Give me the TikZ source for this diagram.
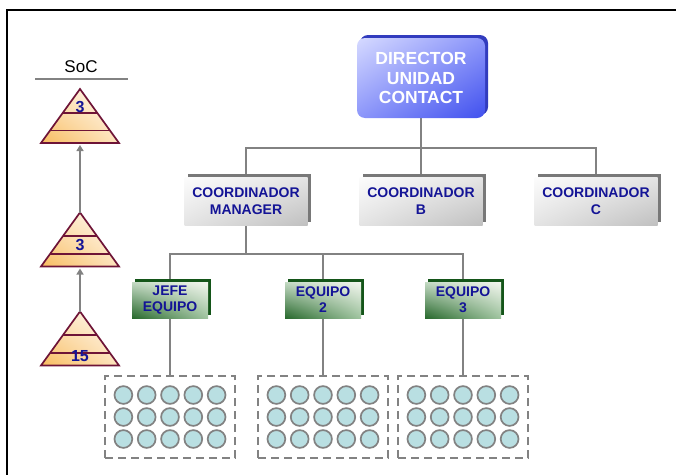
\documentclass[tikz,border=0pt]{standalone}
\usepackage{fontspec}
\setmainfont{Liberation Sans}
\usetikzlibrary{positioning,calc,shadows,shadings,backgrounds,arrows.meta}
\definecolor{dirlight}{RGB}{214,218,255}
\definecolor{dirmid}{RGB}{140,150,250}
\definecolor{dirdark}{RGB}{64,80,238}
\definecolor{dirshade}{RGB}{50,60,190}
\definecolor{coordlight}{RGB}{252,252,252}
\definecolor{coordmid}{RGB}{228,228,228}
\definecolor{coorddark}{RGB}{192,192,192}
\definecolor{coordshade}{RGB}{120,120,120}
\definecolor{teamlight}{RGB}{242,246,238}
\definecolor{teammidA}{RGB}{196,218,196}
\definecolor{teammidB}{RGB}{160,196,160}
\definecolor{teamdark}{RGB}{40,105,45}
\definecolor{teamshade}{RGB}{20,85,25}
\definecolor{txtblue}{RGB}{20,20,150}
\definecolor{linkgray}{RGB}{130,130,130}
\definecolor{pyrlow}{RGB}{248,188,95}
\definecolor{pyrmid}{RGB}{253,228,190}
\definecolor{pyrhigh}{RGB}{255,250,242}
\definecolor{pyrline}{RGB}{110,20,55}
\definecolor{headfill}{RGB}{185,223,226}
\tikzset{
dirbox/.style={rounded corners=8pt,minimum width=128pt,minimum height=80pt,inner sep=0pt,
upper left=dirlight,upper right=dirmid,lower left=dirmid,lower right=dirdark,
drop shadow={shadow xshift=3pt,shadow yshift=3pt,fill=dirshade,opacity=1},
text=white,align=center,font=\fontsize{17.5}{19.5}\selectfont\bfseries},
coordbox/.style={minimum width=123pt,minimum height=48pt,inner sep=0pt,
upper left=coordlight,upper right=coordmid,lower left=coordmid,lower right=coorddark,
drop shadow={shadow xshift=3pt,shadow yshift=3pt,fill=coordshade,opacity=1},
text=txtblue,align=center,font=\fontsize{14}{16.5}\selectfont\bfseries},
teambox/.style={minimum width=76pt,minimum height=36pt,inner sep=0pt,
upper left=teammidA,upper right=teamlight,lower left=teamdark,lower right=teammidB,
drop shadow={shadow xshift=3pt,shadow yshift=3pt,fill=teamshade,opacity=1},
text=txtblue,align=center,font=\fontsize{14}{16}\selectfont\bfseries},
crowd/.style={draw=linkgray,line width=2pt,dash pattern=on 8pt off 5pt,
minimum width=130pt,minimum height=82pt},
head/.style={draw=linkgray,line width=1.7pt,fill=headfill},
link/.style={draw=linkgray,line width=2pt},
soclink/.style={draw=linkgray,line width=2pt,shorten >=2pt,-{Triangle[width=7pt,length=6pt]}},
pyrfill/.style={upper left=pyrmid,upper right=pyrhigh,lower left=pyrlow,lower right=pyrmid},
pyrline/.style={draw=pyrline,line width=1.7pt},
pyrnum/.style={text=txtblue,font=\fontsize{16}{16}\selectfont\bfseries,inner sep=0pt},
soclabel/.style={font=\fontsize{17}{17}\selectfont,inner sep=0pt},
frame/.style={draw=black,line width=1.3pt}
}
\begin{document}
\begin{tikzpicture}[x=1pt,y=-1pt]
\useasboundingbox (0,0) rectangle (676,474);
\draw[frame] (7,10) rectangle (700,500);

% hierarchy
\node[dirbox] (dir) at (421,78) {DIRECTOR\\UNIDAD\\CONTACT};
\node[coordbox] (cm) at (246,201) {COORDINADOR\\MANAGER};
\node[coordbox] (cb) at (421,201) {COORDINADOR\\B};
\node[coordbox] (cc) at (596,201) {COORDINADOR\\C};
\node[teambox] (je) at (170,300) {JEFE\\EQUIPO};
\node[teambox] (e2) at (323,300) {EQUIPO\\2};
\node[teambox] (e3) at (463,300) {EQUIPO\\3};

% teams of agents
\foreach \g/\gx in {g1/170,g2/323,g3/463}{
  \node[crowd] (\g) at (\gx,417) {};
  \foreach \c in {-2,...,2}
    \foreach \r in {-1,0,1}
      \draw[head] ($(\g)+(\c*23.3,\r*22)$) circle (8.9pt);
}

\begin{scope}[on background layer]
\coordinate (busA) at (421,148);
\coordinate (busB) at (246,254);
\draw[link] (dir.south) -- (cb.north);
\draw[link] (cm.north) |- (busA) -| (cc.north);
\draw[link] (cm.south) -- (busB);
\draw[link] (je.north) |- (busB) -| (e3.north);
\draw[link] (e2.north) -- (e2.north |- busB);
\draw[link] (je.south) -- (g1.north);
\draw[link] (e2.south) -- (g2.north);
\draw[link] (e3.south) -- (g3.north);
\end{scope}

% span of control
\node[soclabel] (soc) at (81,67) {SoC};
\draw[link] (35,78.5) -- (128,78.5);
\foreach \i/\ty/\ny/\num in {1/89/107/3,2/212.5/245/3,3/311.5/356/15}{
  \coordinate (p\i) at (80,\ty);
  \coordinate (b\i) at ($(p\i)+(0,54)$);
  \shade[pyrfill] (p\i) -- ++(39,54) -- ++(-78,0) -- cycle;
  \draw[pyrline] ($(p\i)+(-17.2,23.8)$) -- ++(34.4,0);
  \draw[pyrline] ($(p\i)+(-30,41.6)$) -- ++(60,0);
  \draw[pyrline] (p\i) -- ++(39,54) -- ++(-78,0) -- cycle;
  \node[pyrnum] (n\i) at (80,\ny) {\num};
}
\draw[soclink] (p2) -- (b1);
\draw[soclink] (p3) -- (b2);
\end{tikzpicture}
\end{document}
